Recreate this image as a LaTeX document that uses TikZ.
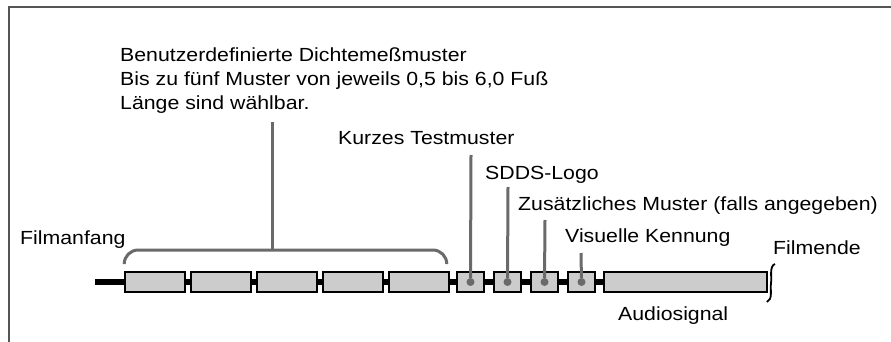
\documentclass[tikz,border=0pt]{standalone}
\usepackage{fontspec}
\setmainfont{Liberation Sans}[FakeStretch=1.12]
\usepackage{xcolor}
\definecolor{boxgray}{HTML}{CCCCCC}
\definecolor{leadgray}{HTML}{6A6A6A}
\definecolor{framegray}{HTML}{555555}
\begin{document}
\begin{tikzpicture}[x=1pt,y=-1pt,
 font=\fontsize{19}{24}\selectfont,
 seg/.style={draw=black,line width=1.6pt,fill=boxgray,minimum height=20pt,inner sep=0pt},
 big/.style={seg,minimum width=60pt},
 small/.style={seg,minimum width=27pt},
 lead/.style={leadgray,line width=3pt},
 dot/.style={circle,fill=leadgray,inner sep=0pt,minimum size=8pt},
 lbl/.style={anchor=base west,inner sep=0pt}]
\useasboundingbox (0,0) rectangle (891,342);
\draw[framegray,line width=2pt] (891,7) -- (9,7) -- (9,342);
% film strip
\coordinate (start) at (95,282);
\node[seg,minimum width=163pt] (audio) at (685.5,282) {};
\draw[line width=6pt] (start) -- (audio.west);
\foreach \i in {1,...,5}
 \node[big] (b\i) at ({155+66*(\i-1)},282) {};
\foreach \i in {1,...,4}{
 \node[small] (s\i) at ({470.5+37*(\i-1)},282) {};
 \node[dot] (d\i) at (s\i) {};
}
\draw[line width=1.8pt] (775,264) .. controls (769,266) and (772,278) .. (771,283)
 .. controls (770,290) and (773,299) .. (767,302);
% bracket over the five user patterns
\coordinate (brk) at (272,250);
\coordinate (brktop) at (272,122);
\draw[lead,rounded corners=14pt] ([yshift=7pt]b1.north west) |- (brk)
 -| ([xshift=-3pt,yshift=7pt]b5.north east);
\draw[lead] (brk) -- (brktop);
% leader ends
\coordinate (t1) at (471,155);
\coordinate (t2) at (508,187);
\coordinate (t3) at (545,220);
\coordinate (t4) at (581,253);
\foreach \i in {1,...,4}\draw[lead] (d\i) -- (t\i);
% labels
\node[lbl,align=left] (user) at (120,110) {Benutzerdefinierte Dichtemeßmuster\\
 Bis zu fünf Muster von jeweils 0,5 bis 6,0 Fuß\\Länge sind wählbar.};
\node[lbl] (kurz) at (338,145) {Kurzes Testmuster};
\node[lbl] (sdds) at (485,179) {SDDS-Logo};
\node[lbl] (zus) at (518,210) {Zusätzliches Muster (falls angegeben)};
\node[lbl] (vis) at (565,242) {Visuelle Kennung};
\node[lbl] (anf) at (20,244) {Filmanfang};
\node[lbl] (end) at (773,254) {Filmende};
\node[lbl] (aud) at (618,320) {Audiosignal};
\end{tikzpicture}
\end{document}
